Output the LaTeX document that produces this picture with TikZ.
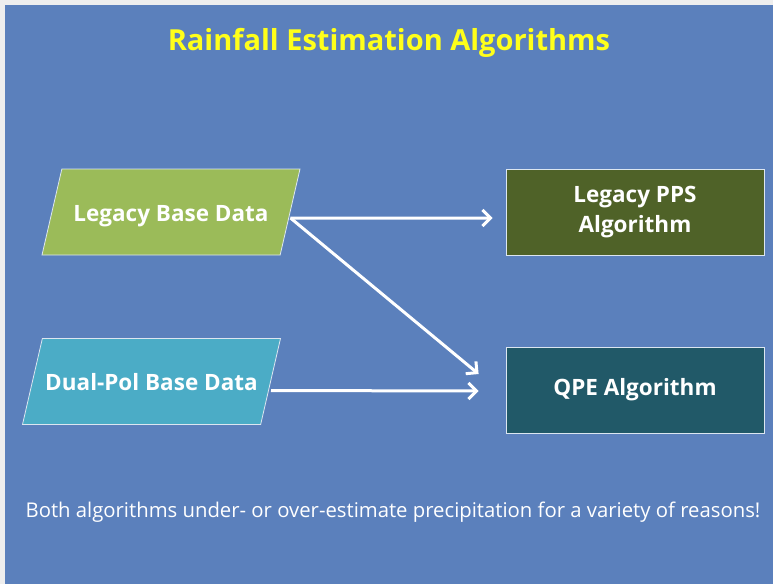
\documentclass[tikz,border=0pt]{standalone}
\usepackage{fontspec}
\setmainfont{Open Sans}
\usetikzlibrary{shapes.geometric,arrows.meta,positioning,calc}

\definecolor{pagegray}{HTML}{EEEEEE}
\definecolor{slideblue}{HTML}{5B80BC}
\definecolor{edgewhite}{HTML}{DCE6F0}
\definecolor{legacygreen}{HTML}{9BBB59}
\definecolor{dualteal}{HTML}{4BACC6}
\definecolor{ppsolive}{HTML}{4F6228}
\definecolor{qpeteal}{HTML}{215968}
\definecolor{titleyellow}{HTML}{FFFF1A}

\begin{document}
\begin{tikzpicture}[x=1pt, y=-1pt,
    databox/.style={trapezium, trapezium left angle=77, trapezium right angle=103,
        trapezium stretches body=true, minimum width=258pt,
        text height=22pt, text depth=4pt, inner xsep=0pt, inner ysep=30pt,
        draw=edgewhite, line width=0.8pt, text=white,
        font=\bfseries\fontsize{22.5}{26}\selectfont},
    algobox/.style={draw=edgewhite, rectangle, minimum width=258pt, minimum height=86pt,
        inner sep=0pt, line width=0.8pt, text=white, align=center,
        font=\bfseries\fontsize{22.5}{30}\selectfont},
    flow/.style={draw=white, line width=3pt, -{Straight Barb[length=8pt,width=16pt]}}]
    % slide background
    \fill[pagegray] (0,0) rectangle (773,584);
    \fill[slideblue] (5,5) rectangle (773,584);

    \node (title) [anchor=base, text=titleyellow, font=\bfseries\fontsize{29}{34}\selectfont] at (389,50) {Rainfall Estimation Algorithms};

    % inputs
    \node (legacy) [databox, fill=legacygreen] at (171,212) {Legacy Base Data};
    \node (dualpol) [databox, fill=dualteal] at (151.5,381.5) {Dual-Pol Base Data};

    % algorithms
    \node (pps) [algobox, fill=ppsolive] at (635,212) {Legacy PPS\\Algorithm};
    \node (qpe) [algobox, fill=qpeteal] at (635,390) {QPE Algorithm};

    \draw[flow] ([yshift=-6pt]legacy.east) -- ([xshift=-13pt,yshift=-6pt]pps.west);
    \draw[flow] ([yshift=-6pt]legacy.east) -- ([xshift=-27pt,yshift=16pt]qpe.west);
    \draw[flow] ([yshift=-9pt]dualpol.east) -- ([xshift=-27pt,yshift=-1pt]qpe.west);

    \node (note) [anchor=base, text=white, font=\fontsize{20.3}{24}\selectfont] at (393,517) {Both algorithms under- or over-estimate precipitation for a variety of reasons!};
\end{tikzpicture}
\end{document}
